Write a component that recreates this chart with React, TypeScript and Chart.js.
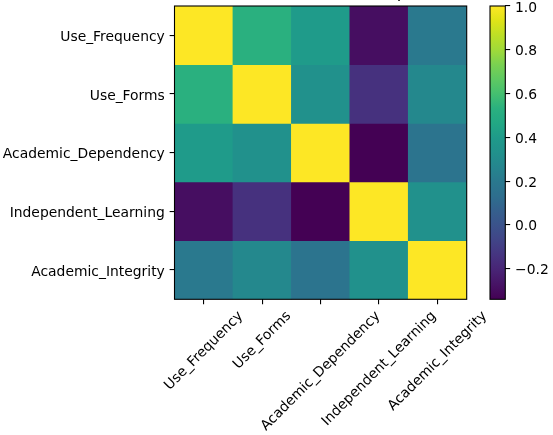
import { useEffect, useRef } from "react";
import { Chart, registerables } from "chart.js";

Chart.register(...registerables);

// ---- data ----
const variables = [
  "Use_Frequency",
  "Use_Forms",
  "Academic_Dependency",
  "Independent_Learning",
  "Academic_Integrity",
];
const rowUseFrequency = [1.0, 0.53, 0.4, -0.29, 0.2];
const rowUseForms = [0.53, 1.0, 0.33, -0.15, 0.28];
const rowAcademicDependency = [0.4, 0.33, 1.0, -0.34, 0.17];
const rowIndependentLearning = [-0.29, -0.15, -0.34, 1.0, 0.33];
const rowAcademicIntegrity = [0.2, 0.28, 0.17, 0.33, 1.0];
const colorbarTicks = [-0.2, 0.0, 0.2, 0.4, 0.6, 0.8, 1.0];
const titleText = "Correlation Heatmap";

const matrix = [
  rowUseFrequency,
  rowUseForms,
  rowAcademicDependency,
  rowIndependentLearning,
  rowAcademicIntegrity,
];
const allValues = matrix.flat();
const vmin = Math.min(...allValues);
const vmax = Math.max(...allValues);

// ---- styling ----
const FAMILY = "'DejaVu Sans'";
const FS = 13.89;
const TICK_LEN = 4.86;
const TICK_PAD = 4.86;
const LINE_W = 1.1;

const viridisStops: [number, string][] = [
  [0.0, "#440154"],
  [0.05, "#471365"],
  [0.1, "#482475"],
  [0.15, "#463480"],
  [0.2, "#414487"],
  [0.25, "#3b528b"],
  [0.3, "#355f8d"],
  [0.35, "#2e6e8e"],
  [0.4, "#2a788e"],
  [0.45, "#25858e"],
  [0.5, "#21918c"],
  [0.55, "#1f9a8a"],
  [0.6, "#22a884"],
  [0.65, "#2ab07f"],
  [0.7, "#44bf70"],
  [0.75, "#5ec962"],
  [0.8, "#7ad151"],
  [0.85, "#a0da39"],
  [0.9, "#bddf26"],
  [0.95, "#dfe318"],
  [1.0, "#fde725"],
];

function hexToRgb(h: string) {
  return [
    parseInt(h.slice(1, 3), 16),
    parseInt(h.slice(3, 5), 16),
    parseInt(h.slice(5, 7), 16),
  ];
}

function viridis(t: number) {
  t = Math.max(0, Math.min(1, t));
  for (let i = 0; i < viridisStops.length - 1; i++) {
    const [t0, c0] = viridisStops[i];
    const [t1, c1] = viridisStops[i + 1];
    if (t <= t1) {
      const f = (t - t0) / (t1 - t0);
      const a = hexToRgb(c0);
      const b = hexToRgb(c1);
      const rgb = a.map((x, k) => Math.round(x + (b[k] - x) * f));
      return `rgb(${rgb[0]},${rgb[1]},${rgb[2]})`;
    }
  }
  return viridisStops[viridisStops.length - 1][1];
}

function colorFor(v: number) {
  return viridis((v - vmin) / (vmax - vmin));
}

function fmtTick(v: number) {
  if (Math.abs(v) < 1e-9) return "0.0";
  const s = v.toFixed(1);
  return s.replace("-", "\u2212");
}

// geometry (page coords: plot area 174.5..466.7 x 6..299.3)
const MAIN_W = 553;
const MAIN_H = 465;
const MAIN_TOP = -30;
const CB_W = 83;
const CB_H = 475;
const CB_LEFT = 470;
const CB_TOP = -20;
const LABEL_DY = 2;

const heatmapDecor = {
  id: "heatmapDecor",
  afterDraw(chart: any) {
    const { ctx, chartArea: a, scales } = chart;
    ctx.save();
    ctx.strokeStyle = "#000";
    ctx.lineWidth = LINE_W;
    ctx.strokeRect(a.left, a.top, a.right - a.left, a.bottom - a.top);

    // rotated x tick labels, centred on their ticks (matplotlib style)
    const xs = scales.x;
    ctx.font = `${FS}px ${FAMILY}`;
    ctx.fillStyle = "#000";
    ctx.textAlign = "right";
    ctx.textBaseline = "alphabetic";
    const c = Math.SQRT1_2;
    const h = 0.968 * FS;
    const asc = 0.76 * FS;
    const top = a.bottom + TICK_LEN + TICK_PAD;
    xs.ticks.forEach((t: any, i: number) => {
      const label = xs.getLabelForValue(t.value);
      const w = ctx.measureText(label).width;
      const px = xs.getPixelForTick(i);
      ctx.save();
      ctx.translate(px + ((w - h) * c) / 2, top);
      ctx.rotate(-Math.PI / 4);
      ctx.fillText(label, 0, asc);
      ctx.restore();
    });

    // title (mostly above the visible page)
    ctx.font = `${FS * 1.2}px ${FAMILY}`;
    ctx.textAlign = "center";
    ctx.fillText(titleText, (a.left + a.right) / 2, a.top - 8.33);
    ctx.restore();
  },
};

const colorbarOutline = {
  id: "colorbarOutline",
  afterDraw(chart: any) {
    const { ctx, chartArea: a } = chart;
    ctx.save();
    ctx.strokeStyle = "#000";
    ctx.lineWidth = LINE_W;
    ctx.strokeRect(a.left, a.top, a.right - a.left, a.bottom - a.top);
    ctx.restore();
  },
};

export default function App() {
  const mainRef = useRef<HTMLCanvasElement | null>(null);
  const cbRef = useRef<HTMLCanvasElement | null>(null);

  useEffect(() => {
    Chart.defaults.font.family = FAMILY;
    Chart.defaults.font.size = FS;
    Chart.defaults.color = "#000";

    const gridOpts = {
      drawOnChartArea: false,
      drawTicks: true,
      tickLength: TICK_LEN,
      color: "#000",
      lineWidth: LINE_W,
    };

    const datasets = matrix.map((row, r) => ({
      label: variables[r],
      data: row.map(() => [r - 0.5, r + 0.5]),
      backgroundColor: row.map((v) => colorFor(v)),
      borderWidth: 0,
      barPercentage: 1,
      categoryPercentage: 1,
      grouped: false,
    }));

    const main = new Chart(mainRef.current!, {
      type: "bar",
      data: { labels: variables, datasets: datasets as any },
      options: {
        animation: false,
        responsive: false,
        maintainAspectRatio: false,
        events: [],
        layout: {
          padding: { top: 6 - MAIN_TOP, right: MAIN_W - 466.7, left: 0, bottom: 0 },
        },
        plugins: {
          legend: { display: false },
          tooltip: { enabled: false },
          title: { display: false },
        },
        scales: {
          x: {
            type: "category",
            offset: true,
            grid: { ...gridOpts, offset: false },
            border: { display: false },
            ticks: { display: false },
            afterFit: (s: any) => {
              s.height = MAIN_H - (299.3 - MAIN_TOP);
            },
          },
          y: {
            type: "linear",
            reverse: true,
            min: -0.5,
            max: 4.5,
            afterBuildTicks: (s: any) => {
              s.ticks = variables.map((_, i) => ({ value: i }));
            },
            grid: gridOpts,
            border: { display: false },
            ticks: {
              autoSkip: false,
              padding: TICK_PAD,
              labelOffset: LABEL_DY,
              color: "#000",
              font: { family: FAMILY, size: FS },
              callback: (v: any) => variables[v as number] ?? "",
            },
            afterFit: (s: any) => {
              s.width = 174.5;
            },
          },
        },
      } as any,
      plugins: [heatmapDecor],
    });

    const cb = new Chart(cbRef.current!, {
      type: "bar",
      data: {
        labels: ["colorbar"],
        datasets: [
          {
            data: [[vmin, vmax]] as any,
            backgroundColor: (ctx: any) => {
              const chart = ctx.chart;
              if (!chart.chartArea) return "#21918c";
              const ys = chart.scales.y;
              const g = chart.ctx.createLinearGradient(
                0,
                ys.getPixelForValue(vmin),
                0,
                ys.getPixelForValue(vmax)
              );
              viridisStops.forEach(([t, col]) => g.addColorStop(t, col));
              return g;
            },
            borderWidth: 0,
            barPercentage: 1,
            categoryPercentage: 1,
          },
        ],
      },
      options: {
        animation: false,
        responsive: false,
        maintainAspectRatio: false,
        events: [],
        layout: {
          padding: {
            top: 6 - CB_TOP,
            left: 490 - CB_LEFT,
            right: 0,
            bottom: CB_H - (299.3 - CB_TOP),
          },
        },
        plugins: {
          legend: { display: false },
          tooltip: { enabled: false },
        },
        scales: {
          x: { display: false },
          y: {
            type: "linear",
            position: "right",
            min: vmin,
            max: vmax,
            afterBuildTicks: (s: any) => {
              s.ticks = colorbarTicks.map((v) => ({ value: v }));
            },
            grid: gridOpts,
            border: { display: false },
            ticks: {
              autoSkip: false,
              padding: TICK_PAD,
              labelOffset: LABEL_DY,
              color: "#000",
              font: { family: FAMILY, size: FS },
              callback: (v: any) => fmtTick(v as number),
            },
            afterFit: (s: any) => {
              s.width = CB_W - (505.3 - CB_LEFT);
            },
          },
        },
      } as any,
      plugins: [colorbarOutline],
    });

    return () => {
      main.destroy();
      cb.destroy();
    };
  }, []);

  return (
    <div
      style={{
        position: "fixed",
        left: 0,
        top: 0,
        width: 553,
        height: 435,
        overflow: "hidden",
        background: "#fff",
      }}
    >
      <canvas
        ref={mainRef}
        width={MAIN_W}
        height={MAIN_H}
        style={{ position: "absolute", left: 0, top: MAIN_TOP, width: MAIN_W, height: MAIN_H }}
      />
      <canvas
        ref={cbRef}
        width={CB_W}
        height={CB_H}
        style={{ position: "absolute", left: CB_LEFT, top: CB_TOP, width: CB_W, height: CB_H }}
      />
    </div>
  );
}
